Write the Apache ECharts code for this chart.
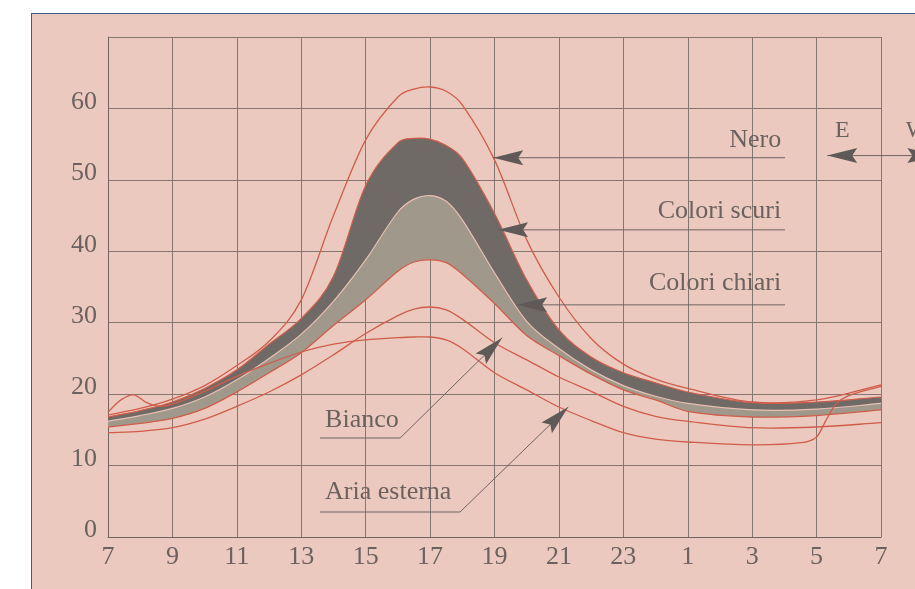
<!DOCTYPE html>
<html><head><meta charset="utf-8">
<script src="https://cdn.jsdelivr.net/npm/echarts@6/dist/echarts.min.js"></script>
<style>
html,body{margin:0;padding:0;background:#fff;width:915px;height:589px;overflow:hidden}
#frame{position:absolute;left:31px;top:13px;width:900px;height:600px;background:#ecc9bf;border-left:1.5px solid #3f5e8e;border-top:1.5px solid #3f5e8e}
#chart{position:absolute;left:0;top:0;width:915px;height:589px}
</style></head><body>
<div id="frame"></div><div id="chart"></div>
<script>
// hours counted from 07:00 (0 = 7h, 24 = 7h next day)
const hours = [0,1,2,3,4,5,6,7,8,9,9.5,10,10.5,11,12,13,14,15,16,17,18,20,22,24];
const nero        = [17.1,18.0,19.3,21.2,24.0,27.4,33.2,45.0,55.6,61.6,62.7,63.0,62.4,60.5,52.8,41.6,33.6,27.8,24.2,22.1,20.8,18.9,19.2,21.3];
const scuriTop    = [16.8,17.7,18.9,20.8,23.4,27.0,30.6,36.5,49.2,55.2,55.8,55.7,54.8,53.0,45.3,36.0,29.0,25.2,23.0,21.6,20.3,18.8,18.9,19.6];
const chiariTop   = [16.2,17.0,18.0,19.6,22.0,25.0,28.4,33.0,38.8,45.5,47.3,47.8,47.0,44.4,37.0,30.2,26.4,23.4,21.2,19.7,18.7,17.8,17.9,18.7];
const chiariBottom= [15.4,15.9,16.6,18.0,20.3,23.0,25.8,29.6,33.2,37.2,38.5,38.8,38.4,36.8,32.7,28.2,25.4,22.8,20.6,19.2,17.6,16.8,17.0,17.8];
const bianco      = [14.6,14.8,15.3,16.5,18.3,20.3,22.7,25.5,28.5,31.0,31.9,32.2,31.8,30.5,27.2,24.8,22.4,20.4,18.3,16.9,16.2,15.3,15.4,16.0];
const ariaHours   = [0,0.4,0.8,1.2,1.6,2,3,4,5,6,7,8,9,9.5,10,10.5,11,12,13,14,15,16,17,18,20,21.5,22,22.3,22.6,23,24];
const ariaEsterna = [17.5,19.2,19.9,18.8,18.3,18.6,20.4,22.5,24.3,25.9,27.0,27.6,27.9,28.0,28.0,27.6,26.4,23.0,20.6,18.2,16.3,14.6,13.7,13.3,12.9,13.2,14.0,16.4,18.6,19.8,21.1];
const yTicks = [0,10,20,30,40,50,60];
const clockStart = 7;

const RED = '#cf5d4b';
const TXT = '#6b625f';
const FONT = '"Liberation Serif", "DejaVu Serif", serif';

// cubic Hermite bezier segments through the data points, mapped with api.coord
function bezierSegs(api, xs, ys) {
  const P = xs.map((x, i) => api.coord([x, ys[i]]));
  const n = P.length, T = [];
  for (let i = 0; i < n; i++) {
    const a = Math.max(i - 1, 0), b = Math.min(i + 1, n - 1);
    const dx = xs[b] - xs[a];
    T.push([(P[b][0] - P[a][0]) / dx, (P[b][1] - P[a][1]) / dx]);
  }
  const segs = [];
  for (let i = 0; i < n - 1; i++) {
    const h = (xs[i + 1] - xs[i]) / 3;
    segs.push([P[i], [P[i][0] + T[i][0] * h, P[i][1] + T[i][1] * h],
      [P[i + 1][0] - T[i + 1][0] * h, P[i + 1][1] - T[i + 1][1] * h], P[i + 1]]);
  }
  return segs;
}
const f = v => v.toFixed(2);
function pathOf(segs, move) {
  let s = (move ? 'M' : 'L') + f(segs[0][0][0]) + ' ' + f(segs[0][0][1]);
  segs.forEach(q => { s += 'C' + f(q[1][0]) + ' ' + f(q[1][1]) + ' ' + f(q[2][0]) + ' ' + f(q[2][1]) + ' ' + f(q[3][0]) + ' ' + f(q[3][1]); });
  return s;
}
const rev = segs => segs.slice().reverse().map(q => [q[3], q[2], q[1], q[0]]);

function bandRender(params, api) {
  const top = bezierSegs(api, hours, scuriTop);
  const mid = bezierSegs(api, hours, chiariTop);
  const bot = bezierSegs(api, hours, chiariBottom);
  return {type: 'group', children: [
    {type: 'path', shape: {pathData: pathOf(mid, true) + pathOf(rev(bot), false) + 'Z'}, style: {fill: '#a0988b', stroke: null}},
    {type: 'path', shape: {pathData: pathOf(top, true) + pathOf(rev(mid), false) + 'Z'}, style: {fill: '#6f6a66', stroke: null}},
    {type: 'path', shape: {pathData: pathOf(bot, true)}, style: {fill: null, stroke: RED, lineWidth: 1.3}},
    {type: 'path', shape: {pathData: pathOf(mid, true)}, style: {fill: null, stroke: '#e9bfb2', lineWidth: 1.2}},
    {type: 'path', shape: {pathData: pathOf(top, true)}, style: {fill: null, stroke: RED, lineWidth: 1.2}}
  ]};
}
const curve = (name, xs, ys) => ({
  name, type: 'custom', coordinateSystem: 'cartesian2d', data: [[xs[0], ys[0]]], silent: true, z: 5,
  renderItem: (params, api) => ({type: 'path', shape: {pathData: pathOf(bezierSegs(api, xs, ys), true)},
    style: {fill: null, stroke: RED, lineWidth: 1.3}})
});

const chart = echarts.init(document.getElementById('chart'), null, {renderer: 'canvas'});
chart.setOption({
  animation: false,
  backgroundColor: 'transparent',
  grid: {left: 108, right: 34, top: 37, bottom: 52},
  xAxis: {
    type: 'value', min: 0, max: 24, interval: 2,
    axisLine: {show: true, lineStyle: {color: '#6f6560', width: 1}},
    axisTick: {show: false},
    splitLine: {show: true, lineStyle: {color: '#857670', width: 1}},
    axisLabel: {margin: 7, color: TXT, fontFamily: FONT, fontSize: 26,
      formatter: v => String((v + clockStart) % 24)}
  },
  yAxis: {
    type: 'value', min: 0, max: 70, interval: 10,
    axisLine: {show: true, lineStyle: {color: '#6f6560', width: 1}},
    axisTick: {show: false},
    splitLine: {show: true, lineStyle: {color: '#857670', width: 1}},
    axisLabel: {margin: 11, color: TXT, fontFamily: FONT, fontSize: 26, verticalAlign: 'bottom', lineHeight: 13,
      formatter: v => yTicks.includes(v) ? String(v) : ''}
  },
  series: [
    {name: 'band', type: 'custom', coordinateSystem: 'cartesian2d', data: [[0, 0]], silent: true, z: 2,
      renderItem: bandRender},
    curve('Nero', hours, nero),
    curve('Bianco', hours, bianco),
    curve('Aria esterna', ariaHours, ariaEsterna)
  ]
});

// annotations positioned in data coordinates
const P = (x, y) => chart.convertToPixel({gridIndex: 0}, [x, y]);
const notes = [
  {text: 'Nero', tx: 20.9, ty: 55.6, align: 'right', path: [[21.02, 53.1], [11.96, 53.1]]},
  {text: 'Colori scuri', tx: 20.9, ty: 45.6, align: 'right', path: [[21.02, 43.0], [12.11, 43.0]]},
  {text: 'Colori chiari', tx: 20.9, ty: 35.6, align: 'right', path: [[21.02, 32.5], [12.7, 32.5]]},
  {text: 'Bianco', tx: 6.74, ty: 16.4, align: 'left', path: [[6.58, 13.86], [9.07, 13.86], [12.24, 27.9]]},
  {text: 'Aria esterna', tx: 6.74, ty: 6.3, align: 'left', path: [[6.58, 3.5], [10.93, 3.5], [14.29, 18.2]]}
];
const g = [];
function arrowHead(tip, from) {
  const dx = tip[0] - from[0], dy = tip[1] - from[1];
  const L = Math.hypot(dx, dy), ux = dx / L, uy = dy / L;
  const len = 30, hw = 7.5;
  const bx = tip[0] - ux * len, by = tip[1] - uy * len;
  const nx = bx + ux * 5, ny = by + uy * 5;
  return {type: 'polygon', silent: true, z: 20,
    shape: {points: [tip, [bx - uy * hw, by + ux * hw], [nx, ny], [bx + uy * hw, by - ux * hw]]},
    style: {fill: '#5f5a57'}};
}
notes.forEach(n => {
  const p = P(n.tx, n.ty);
  g.push({type: 'text', silent: true, z: 20, x: p[0], y: p[1],
    style: {text: n.text, fill: TXT, font: '26px ' + FONT, align: n.align, verticalAlign: 'middle'}});
  const pp = n.path.map(q => P(q[0], q[1]));
  g.push({type: 'polyline', silent: true, z: 19, shape: {points: pp},
    style: {stroke: '#6e6562', lineWidth: 1, fill: null}});
  g.push(arrowHead(pp[pp.length - 1], pp[pp.length - 2]));
});
// E <-> W indicator
const eA = P(22.33, 53.4), eB = P(25.75, 53.4);
g.push({type: 'line', silent: true, z: 19, shape: {x1: eA[0], y1: eA[1], x2: eB[0], y2: eB[1]},
  style: {stroke: '#6e6562', lineWidth: 1}});
g.push(arrowHead(eA, eB));
g.push(arrowHead(eB, eA));
const eT = P(22.8, 56.9), wT = P(25.12, 56.9);
g.push({type: 'text', silent: true, z: 20, x: eT[0], y: eT[1],
  style: {text: 'E', fill: TXT, font: '24px ' + FONT, align: 'center', verticalAlign: 'middle'}});
g.push({type: 'text', silent: true, z: 20, x: wT[0], y: wT[1],
  style: {text: 'W', fill: TXT, font: '24px ' + FONT, align: 'center', verticalAlign: 'middle'}});
chart.setOption({graphic: g});
</script></body></html>
